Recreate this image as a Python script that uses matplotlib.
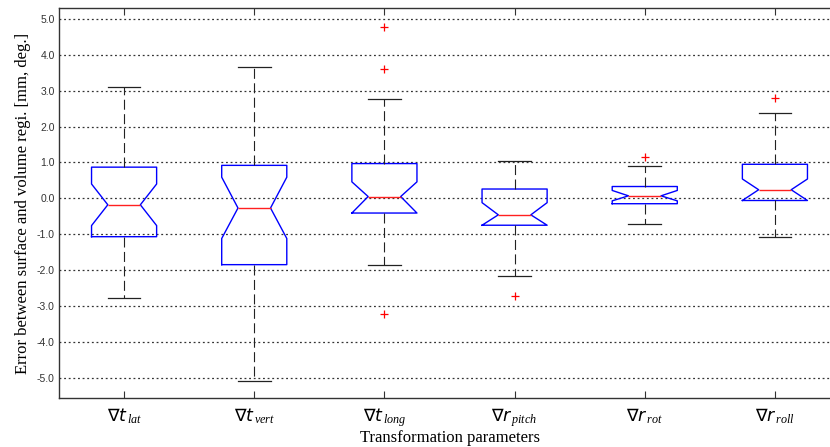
import matplotlib
matplotlib.use("Agg")
import matplotlib.pyplot as plt

plt.rcParams['mathtext.fontset'] = 'custom'
plt.rcParams['mathtext.rm'] = 'DejaVu Sans'
plt.rcParams['mathtext.it'] = 'Liberation Serif:italic'
plt.rcParams['mathtext.sf'] = 'DejaVu Sans:italic'

# Werte
labels = [r'$\nabla\mathsf{t}_{\,lat}$', r'$\nabla\mathsf{t}_{\,vert}$', r'$\nabla\mathsf{t}_{\,long}$',
          r'$\nabla\mathsf{r}_{\,pitch}$', r'$\nabla\mathsf{r}_{\,rot}$', r'$\nabla\mathsf{r}_{\,roll}$']
q1 = [-1.07, -1.85, -0.41, -0.75, -0.15, -0.06]
med = [-0.18, -0.27, 0.05, -0.46, 0.07, 0.24]
q3 = [0.87, 0.92, 0.97, 0.26, 0.33, 0.95]
whislo = [-2.77, -5.10, -1.86, -2.16, -0.72, -1.07]
whishi = [3.10, 3.66, 2.78, 1.03, 0.89, 2.38]
cilo = [-0.76, -1.12, -0.41, -0.75, -0.07, -0.06]
cihi = [0.40, 0.59, 0.46, -0.12, 0.22, 0.54]
fliers = [[], [], [4.79, 3.60, -3.23], [-2.72], [1.14], [2.80]]
yticks = [5, 4, 3, 2, 1, 0, -1, -2, -3, -4, -5]

stats = []
for i in range(len(labels)):
    stats.append(dict(q1=q1[i], med=med[i], q3=q3[i], whislo=whislo[i], whishi=whishi[i],
                      cilo=cilo[i], cihi=cihi[i], fliers=fliers[i], label=labels[i]))

fig = plt.figure(figsize=(8.3, 4.47), dpi=100)
ax = fig.add_axes([59/830, 49/447, 781/830, 390/447])

ax.bxp(stats, positions=range(1, 7), widths=0.5, shownotches=True,
       boxprops=dict(color='#0000ff', lw=1.0),
       medianprops=dict(color='#ff2020', lw=1.0),
       whiskerprops=dict(color='#222222', lw=0.8, linestyle=(0, (9, 4))),
       capprops=dict(color='#222222', lw=0.9),
       flierprops=dict(marker='+', markeredgecolor='#ff0000', markersize=6, markeredgewidth=0.9))

ax.set_xlim(0.5, 6.5)
ax.set_ylim(-5.57, 5.31)
ax.set_yticks(yticks)
ax.set_yticklabels(['%.1f' % v for v in yticks], fontsize=7.5, color='#333333', family='Liberation Sans')
ax.set_xticklabels(labels, fontsize=12.5)
ax.tick_params(axis='x', direction='in', top=True, length=5, pad=6, color='#333333')
ax.tick_params(axis='y', direction='in', length=0, pad=3)
ax.yaxis.grid(True, linestyle=(0, (1.5, 2.2)), color='#333333', lw=0.9)
ax.set_axisbelow(True)
for s in ax.spines.values():
    s.set_color('#333333')
    s.set_linewidth(1.0)

ax.set_ylabel('Error between surface and volume regi. [mm, deg.]', family='Liberation Serif',
              fontsize=12, labelpad=4)
ax.set_xlabel('Transformation parameters', family='Liberation Serif', fontsize=12, labelpad=1)

fig.savefig('out.png', dpi=100)
